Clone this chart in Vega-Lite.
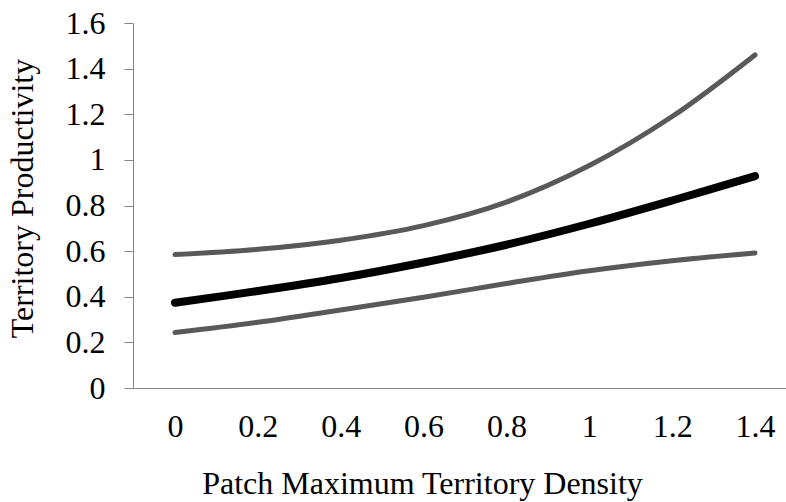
{
  "$schema": "https://vega.github.io/schema/vega-lite/v6.json",
  "autosize": "none",
  "padding": {"left": 133, "top": 23, "right": 0, "bottom": 114},
  "width": 653,
  "height": 365,
  "background": "white",
  "config": {
    "view": {"stroke": null},
    "font": "Liberation Serif",
    "axis": {"labelFont": "Liberation Serif", "titleFont": "Liberation Serif", "labelColor": "black", "titleColor": "black", "titleFontWeight": "normal", "domainColor": "#868686", "tickColor": "#868686", "grid": false}
  },
  "data": {
    "values": [
      {"x": 0, "series": "upper", "y": 0.585},
      {"x": 0.2, "series": "upper", "y": 0.608},
      {"x": 0.4, "series": "upper", "y": 0.648},
      {"x": 0.6, "series": "upper", "y": 0.712},
      {"x": 0.8, "series": "upper", "y": 0.815},
      {"x": 1, "series": "upper", "y": 0.975},
      {"x": 1.2, "series": "upper", "y": 1.19},
      {"x": 1.4, "series": "upper", "y": 1.46},
      {"x": 0, "series": "mean", "y": 0.374},
      {"x": 0.2, "series": "mean", "y": 0.425},
      {"x": 0.4, "series": "mean", "y": 0.482},
      {"x": 0.6, "series": "mean", "y": 0.55},
      {"x": 0.8, "series": "mean", "y": 0.628},
      {"x": 1, "series": "mean", "y": 0.72},
      {"x": 1.2, "series": "mean", "y": 0.822},
      {"x": 1.4, "series": "mean", "y": 0.929},
      {"x": 0, "series": "lower", "y": 0.243},
      {"x": 0.2, "series": "lower", "y": 0.288},
      {"x": 0.4, "series": "lower", "y": 0.342},
      {"x": 0.6, "series": "lower", "y": 0.398},
      {"x": 0.8, "series": "lower", "y": 0.458},
      {"x": 1, "series": "lower", "y": 0.514},
      {"x": 1.2, "series": "lower", "y": 0.558},
      {"x": 1.4, "series": "lower", "y": 0.592}
    ]
  },
  "encoding": {
    "x": {
      "field": "x", "type": "quantitative",
      "scale": {"domain": [-0.1014, 1.4748], "nice": false, "zero": false},
      "axis": {"title": "Patch Maximum Territory Density", "values": [0, 0.2, 0.4, 0.6, 0.8, 1, 1.2, 1.4], "format": "~g", "labelFlush": false, "labelOverlap": false, "ticks": false, "labelFontSize": 32, "titleFontSize": 32, "labelPadding": 23, "titleX": 289, "titleY": 105, "titleBaseline": "alphabetic", "titleAnchor": null, "titleAlign": "center", "domainWidth": 1}
    },
    "y": {
      "field": "y", "type": "quantitative",
      "scale": {"domain": [0, 1.6], "nice": false},
      "axis": {"title": "Territory Productivity", "values": [0, 0.2, 0.4, 0.6, 0.8, 1, 1.2, 1.4, 1.6], "format": "~g", "labelFlush": false, "labelOverlap": false, "labelFontSize": 32, "titleFontSize": 32, "tickSize": 9, "labelPadding": 19, "titleX": -111, "titleY": 175, "titleBaseline": "middle", "titleAlign": "center", "titleAngle": -90, "domainWidth": 1}
    },
    "detail": {"field": "series", "type": "nominal"}
  },
  "layer": [
    {
      "transform": [{"filter": "datum.series !== 'mean'"}],
      "mark": {"type": "line", "interpolate": "catmull-rom", "strokeCap": "round", "strokeJoin": "round", "color": "#595959", "strokeWidth": 5}
    },
    {
      "transform": [{"filter": "datum.series === 'mean'"}],
      "mark": {"type": "line", "interpolate": "catmull-rom", "strokeCap": "round", "strokeJoin": "round", "color": "#000000", "strokeWidth": 8}
    }
  ]
}
